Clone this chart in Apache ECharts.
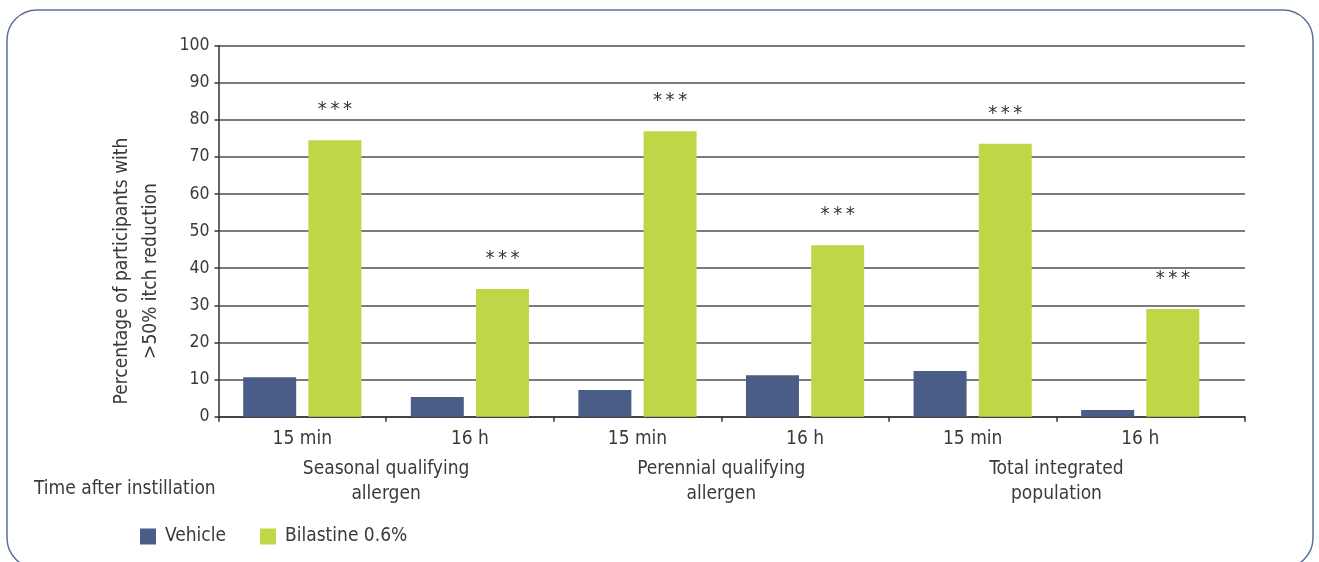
<!DOCTYPE html>
<html>
<head>
<meta charset="utf-8">
<script src="https://cdn.jsdelivr.net/npm/echarts@6/dist/echarts.min.js"></script>
<style>
  html, body { margin: 0; padding: 0; background: #ffffff; }
  #chart { width: 1319px; height: 562px; }
</style>
</head>
<body>
<div id="chart"></div>
<script>
// ---- data ----
const timeLabels = ['15 min', '16 h', '15 min', '16 h', '15 min', '16 h'];
const groupLabels = ['Seasonal qualifying\nallergen', 'Perennial qualifying\nallergen', 'Total integrated\npopulation'];
const seriesNames = ['Vehicle', 'Bilastine 0.6%'];
const vehicle = [10.6, 5.3, 7.2, 11.2, 12.3, 1.8];
const bilastine = [74.5, 34.4, 76.9, 46.2, 73.5, 29.0];
const significance = ['***', '***', '***', '***', '***', '***'];
const yTicks = [0, 10, 20, 30, 40, 50, 60, 70, 80, 90, 100];

// ---- positions on the x value scale (each category spans 2 units) ----
const catPos = timeLabels.map((_, i) => 2 * i + 1);
const groupPos = groupLabels.map((_, g) => 4 * g + 2);
const boundaryPos = [0, 2, 4, 6, 8, 10, 12.25];

const FONT = "'Liberation Sans Narrow', 'DejaVu Sans Condensed', 'Noto Sans', sans-serif";
const TXT = '#3a3a3a';

const chart = echarts.init(document.getElementById('chart'));
chart.setOption({
  animation: false,
  textStyle: { fontFamily: FONT, color: TXT },
  grid: { left: 218.5, top: 45.5, right: 74, bottom: 562 - 416.7, containLabel: false },
  xAxis: [
    {
      type: 'value', min: 0, max: 12.25,
      axisLine: { show: true, lineStyle: { color: '#333', width: 1.5 } },
      axisTick: { show: true, length: 5, customValues: boundaryPos, lineStyle: { color: '#333', width: 1.5 } },
      splitLine: { show: false },
      axisLabel: {
        customValues: catPos, margin: 11, fontSize: 19, lineHeight: 22, color: TXT, fontFamily: FONT,
        formatter: v => timeLabels[catPos.indexOf(v)] || ''
      }
    },
    {
      type: 'value', min: 0, max: 12.25, position: 'bottom',
      axisLine: { show: false }, axisTick: { show: false }, splitLine: { show: false },
      axisLabel: {
        customValues: groupPos, margin: 40, fontSize: 19, lineHeight: 25, color: TXT, fontFamily: FONT,
        formatter: v => groupLabels[groupPos.indexOf(v)] || ''
      }
    }
  ],
  yAxis: {
    type: 'value', min: yTicks[0], max: yTicks[yTicks.length - 1], interval: 10,
    axisLine: { show: true, lineStyle: { color: '#333', width: 1.5 } },
    axisTick: { show: true, length: 4, lineStyle: { color: '#333', width: 1.5 } },
    splitLine: { show: true, lineStyle: { color: '#4f4f4f', width: 1.5 } },
    axisLabel: { fontSize: 17.5, color: TXT, margin: 9, fontFamily: FONT }
  },
  legend: {
    left: 140, top: 527, padding: 0, itemWidth: 16, itemHeight: 16, itemGap: 34,
    icon: 'rect',
    textStyle: { fontSize: 19, color: TXT, fontFamily: FONT, padding: [0, 0, 0, 4] },
    data: seriesNames
  },
  series: [
    {
      name: seriesNames[0], type: 'bar', xAxisIndex: 0,
      barWidth: 53, barGap: '23%',
      itemStyle: { color: '#4a5d87' },
      data: vehicle.map((v, i) => [catPos[i], v])
    },
    {
      name: seriesNames[1], type: 'bar', xAxisIndex: 0,
      barWidth: 53, barGap: '23%',
      itemStyle: { color: '#bfd747' },
      label: {
        show: true, position: 'top', distance: 20, fontSize: 20, lineHeight: 20, color: '#333', fontFamily: FONT,
        formatter: p => significance[p.dataIndex].split('').join('\u2009')
      },
      data: bilastine.map((v, i) => [catPos[i], v])
    }
  ],
  graphic: [
    {
      type: 'rect', silent: true, z: -1,
      shape: { x: 7, y: 10, width: 1306, height: 558, r: 30 },
      style: { fill: 'none', stroke: '#5d709b', lineWidth: 1.5 }
    },
    {
      type: 'text', x: 137, y: 271, rotation: Math.PI / 2,
      style: {
        text: 'Percentage of participants with\n>50% itch reduction',
        fontSize: 19, lineHeight: 29, fontFamily: FONT, fill: TXT,
        align: 'center', verticalAlign: 'middle'
      }
    },
    {
      type: 'text', x: 34, y: 489,
      style: {
        text: 'Time after instillation', fontSize: 19, fontFamily: FONT, fill: TXT,
        align: 'left', verticalAlign: 'middle'
      }
    }
  ]
});
</script>
</body>
</html>
